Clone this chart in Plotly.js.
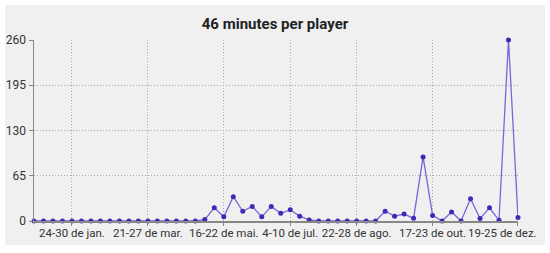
<!DOCTYPE html>
<html>
<head>
<meta charset="utf-8">
<script src="https://cdn.plot.ly/plotly-3.0.1.min.js"></script>
<style>
  html, body { margin: 0; padding: 0; background: #ffffff; }
  #panel { position: absolute; left: 5px; top: 5px; width: 540px; height: 240px; background: #f0f0f0; }
  #chart { width: 540px; height: 240px; }
</style>
</head>
<body>
<div id="panel"><div id="chart"></div></div>
<script>
const weekStarts = [
  "2021-12-27","2022-01-03","2022-01-10","2022-01-17","2022-01-24","2022-01-31","2022-02-07","2022-02-14",
  "2022-02-21","2022-02-28","2022-03-07","2022-03-14","2022-03-21","2022-03-28","2022-04-04","2022-04-11",
  "2022-04-18","2022-04-25","2022-05-02","2022-05-09","2022-05-16","2022-05-23","2022-05-30","2022-06-06",
  "2022-06-13","2022-06-20","2022-06-27","2022-07-04","2022-07-11","2022-07-18","2022-07-25","2022-08-01",
  "2022-08-08","2022-08-15","2022-08-22","2022-08-29","2022-09-05","2022-09-12","2022-09-19","2022-09-26",
  "2022-10-03","2022-10-10","2022-10-17","2022-10-24","2022-10-31","2022-11-07","2022-11-14","2022-11-21",
  "2022-11-28","2022-12-05","2022-12-12","2022-12-19"
];
const minutesPerPlayer = [
  0,0,0,0,0,0,0,0,
  0,0,0,0,0,0,0,0,
  0,0,2,19,6,35,14,21,
  6,21,11,16,7,1.5,0,0,
  0,0,0,0,0,14,7,10,
  4,92,8,0,13,0,32,3.5,
  19,1,260,5
];
const tickDates = ["2022-01-24","2022-03-21","2022-05-16","2022-07-04","2022-08-22","2022-10-17","2022-12-19"];
const tickLabels = ["24-30 de jan.","21-27 de mar.","16-22 de mai.","4-10 de jul.","22-28 de ago.","17-23 de out.","19-25 de dez."];
const yTicks = [0,65,130,195,260];

const lastIdx = tickLabels.length - 1;
// the last label is pushed left to stay inside the panel, as in the reference
const shownTickText = tickLabels.map((t, i) => i === lastIdx ? '' : t);
const tickFont = { family: 'Roboto, sans-serif', size: 11.5, color: '#333333' };

const trace = {
  x: weekStarts,
  y: minutesPerPlayer,
  type: 'scatter',
  mode: 'lines+markers',
  line: { color: '#7a66d6', width: 1.3 },
  marker: { color: '#3d2bb8', size: 5 },
  cliponaxis: false,
  hoverinfo: 'skip'
};

const layout = {
  width: 540, height: 240,
  paper_bgcolor: 'rgba(0,0,0,0)',
  plot_bgcolor: 'rgba(0,0,0,0)',
  margin: { l: 28.5, r: 27, t: 34.5, b: 23.5 },
  font: { family: 'Roboto, sans-serif', size: 12, color: '#333333' },
  title: { text: '<b>46 minutes per player</b>', x: 0.5, xanchor: 'center', y: 0.92, yanchor: 'middle',
           font: { family: 'Roboto, sans-serif', size: 15, color: '#222222' } },
  showlegend: false,
  annotations: [{
    x: tickDates[lastIdx], xref: 'x', xanchor: 'right', xshift: 21,
    y: 0, yref: 'paper', yanchor: 'top', yshift: -3,
    text: tickLabels[lastIdx], showarrow: false, font: tickFont
  }],
  xaxis: {
    type: 'date',
    range: [weekStarts[0], weekStarts[weekStarts.length - 1] + " 00:10"],
    tickmode: 'array', tickvals: tickDates, ticktext: shownTickText,
    tickangle: 0, automargin: false, ticklabeloverflow: 'allow',
    tickfont: tickFont,
    showgrid: true, gridcolor: '#a8a8a8', griddash: '1px,2px', gridwidth: 1,
    showline: true, linecolor: '#888888', linewidth: 1.5,
    ticks: 'outside', ticklen: 3, tickcolor: '#888888', ticklabelstandoff: -2,
    zeroline: false, fixedrange: true
  },
  yaxis: {
    range: [0, 260],
    tickmode: 'array', tickvals: yTicks,
    tickfont: { family: 'Roboto, sans-serif', size: 12, color: '#333333' },
    showgrid: true, gridcolor: '#a8a8a8', griddash: '1px,2px', gridwidth: 1,
    showline: true, linecolor: '#888888', linewidth: 1.5,
    ticks: 'outside', ticklen: 4, tickcolor: '#888888',
    zeroline: false, fixedrange: true, automargin: false
  }
};

Plotly.newPlot('chart', [trace], layout, { displayModeBar: false, staticPlot: true });
</script>
</body>
</html>
